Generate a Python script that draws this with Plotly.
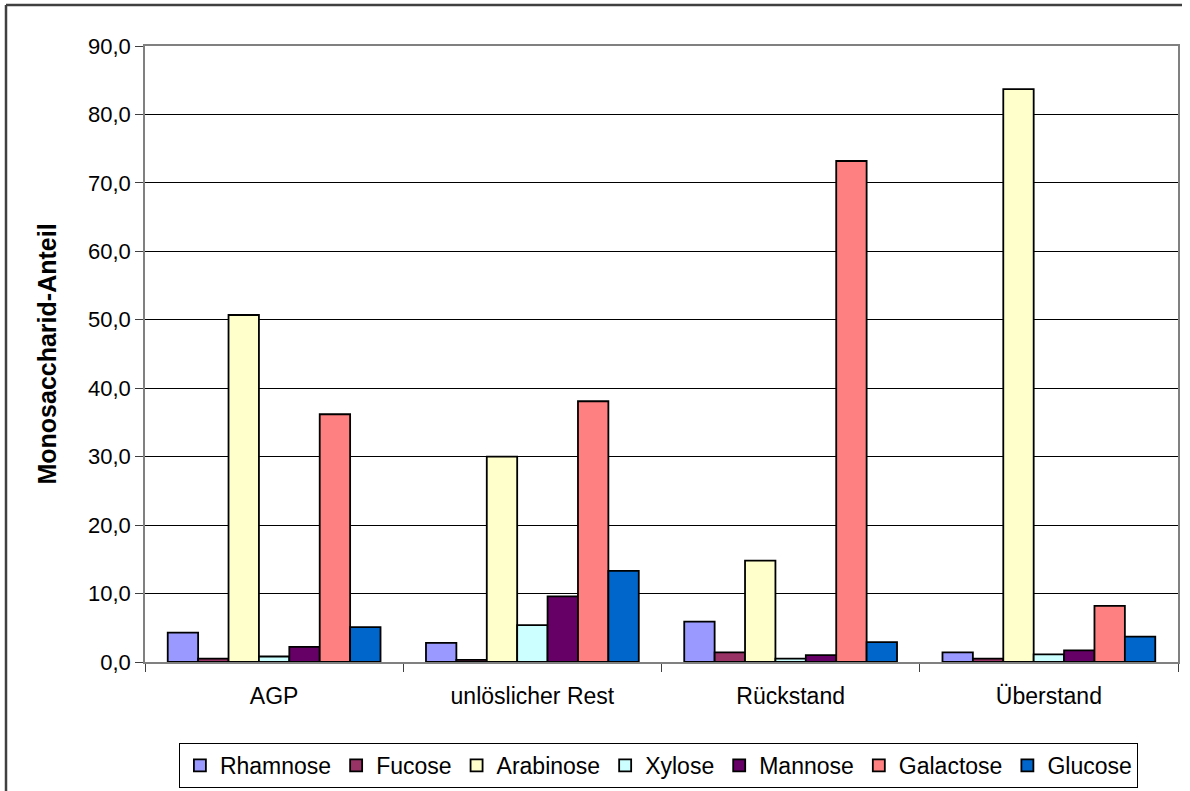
import plotly.graph_objects as go

categories = ["AGP", "unlöslicher Rest", "Rückstand", "Überstand"]
series_names = ["Rhamnose", "Fucose", "Arabinose", "Xylose", "Mannose", "Galactose", "Glucose"]
rhamnose = [4.3, 2.8, 5.9, 1.4]
fucose = [0.5, 0.3, 1.4, 0.5]
arabinose = [50.7, 30.0, 14.8, 83.7]
xylose = [0.8, 5.4, 0.5, 1.1]
mannose = [2.2, 9.6, 1.0, 1.7]
galactose = [36.2, 38.1, 73.2, 8.2]
glucose = [5.1, 13.3, 2.9, 3.7]
colors = ["#9999FF", "#993366", "#FFFFCC", "#CCFFFF", "#660066", "#FF8080", "#0066CC"]
y_ticks = [0, 10, 20, 30, 40, 50, 60, 70, 80, 90]

values = [rhamnose, fucose, arabinose, xylose, mannose, galactose, glucose]

W, H = 1190, 791
L, R, T, B = 145, 12, 46, 129
pw = W - L - R
ph = H - T - B

fig = go.Figure()
for name, vals, col in zip(series_names, values, colors):
    fig.add_trace(go.Bar(
        name=name, x=categories, y=vals,
        marker=dict(color=col, line=dict(color="#000000", width=1.8)),
    ))

font = "Liberation Sans, Arial, sans-serif"

def px_x(p):
    return (p - L) / pw

def px_y(p):
    return 1 - (p - T) / ph

fig.update_layout(
    width=W, height=H,
    margin=dict(l=L, r=R, t=T, b=B, pad=0, autoexpand=False),
    paper_bgcolor="white", plot_bgcolor="white",
    barmode="group", bargap=0.176, bargroupgap=0,
    separators=",.",
    font=dict(family=font, size=22, color="#000000"),
    showlegend=True,
    legend=dict(
        orientation="h", x=0.497, xanchor="center", y=-0.1315, yanchor="top",
        bordercolor="#000000", borderwidth=1, bgcolor="white",
        font=dict(family=font, size=23), itemwidth=30, tracegroupgap=0,
    ),
    xaxis=dict(
        showline=True, linecolor="#808080", linewidth=1.5, mirror=True,
        ticks="outside", ticklen=8, tickcolor="#404040", tickson="boundaries",
        tickfont=dict(family=font, size=23), showgrid=False,
        ticklabelstandoff=13, automargin=False,
    ),
    yaxis=dict(
        range=[0, 90], tickvals=y_ticks, tickformat=".1f",
        showline=True, linecolor="#808080", linewidth=1.5, mirror=True,
        ticks="outside", ticklen=8, tickcolor="#404040",
        showgrid=True, gridcolor="#000000", gridwidth=1,
        tickfont=dict(family=font, size=22),
        title=dict(text="<b>Monosaccharid-Anteil</b>", font=dict(family=font, size=25), standoff=24),
        zeroline=False, automargin=False,
    ),
    shapes=[
        dict(type="line", xref="paper", yref="paper", x0=px_x(6), x1=px_x(6), y0=px_y(5), y1=px_y(800),
             line=dict(color="#404040", width=2.5)),
        dict(type="line", xref="paper", yref="paper", x0=px_x(6), x1=px_x(1182), y0=px_y(5), y1=px_y(5),
             line=dict(color="#404040", width=2.5)),
    ],
)

fig.write_html("out.html", config={"displayModeBar": False},
               post_script="document.body.style.margin='0';document.body.style.overflow='hidden';")
